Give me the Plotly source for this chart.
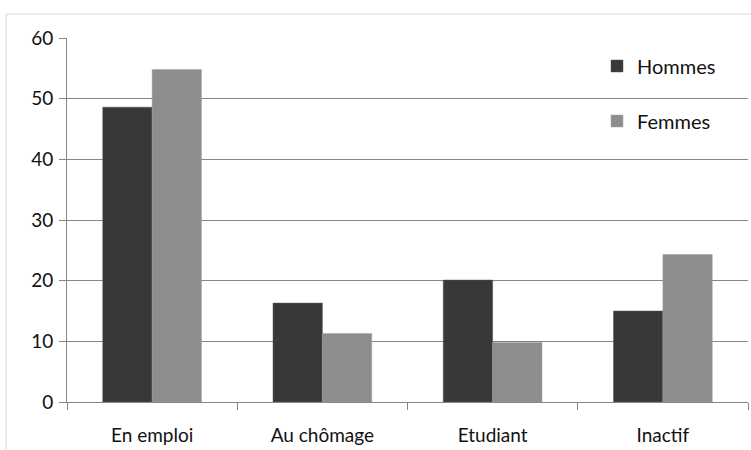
import plotly.graph_objects as go

categories = ["En emploi", "Au chômage", "Etudiant", "Inactif"]
hommes = [48.6, 16.3, 20.1, 15.0]
femmes = [54.8, 11.3, 9.8, 24.3]
y_ticks = [0, 10, 20, 30, 40, 50, 60]

W, H = 751, 450
L, R, T, B = 67, 3, 38, 48
pw, ph = W - L - R, H - T - B

def px_x(x):
    return (x - L) / pw

def px_y(y):
    return 1 - (y - T) / ph

FAMILY = "Lato, 'Open Sans', sans-serif"
font = dict(family=FAMILY, size=19, color="#111111")

fig = go.Figure()
fig.add_trace(go.Bar(
    x=categories, y=hommes, name="Hommes",
    marker=dict(color="#383838", line=dict(color="#555555", width=0.5)),
    legend="legend",
))
fig.add_trace(go.Bar(
    x=categories, y=femmes, name="Femmes",
    marker=dict(color="#8d8d8d", line=dict(color="#a0a0a0", width=0.5)),
    legend="legend2",
))

legend_common = dict(
    xanchor="left", yanchor="middle",
    font=dict(family=FAMILY, size=20, color="#111111"),
    bgcolor="rgba(0,0,0,0)", itemwidth=30, itemclick=False,
)

# outer frame of the chart area (top and left edges)
frame = "#dcd9d0"
shapes = [
    dict(type="line", xref="paper", yref="paper",
         x0=px_x(6), x1=px_x(751), y0=px_y(14), y1=px_y(14),
         line=dict(color=frame, width=1)),
    dict(type="line", xref="paper", yref="paper",
         x0=px_x(6), x1=px_x(6), y0=px_y(14), y1=px_y(450),
         line=dict(color=frame, width=1)),
]

fig.update_layout(
    width=W, height=H,
    margin=dict(l=L, r=R, t=T, b=B),
    paper_bgcolor="white", plot_bgcolor="white",
    barmode="group", bargap=0.42, bargroupgap=0,
    font=font,
    showlegend=True,
    legend=dict(x=px_x(597), y=px_y(66), **legend_common),
    legend2=dict(x=px_x(597), y=px_y(121), **legend_common),
    shapes=shapes,
    xaxis=dict(
        type="category", range=[-0.5, 3.5],
        showline=True, linecolor="#868686", linewidth=1,
        ticks="outside", tickson="boundaries", ticklen=7,
        tickcolor="#868686", tickwidth=1,
        showgrid=False, ticklabelstandoff=16,
        tickfont=font,
    ),
    yaxis=dict(
        range=[0, 60], tickvals=y_ticks, ticktext=[str(v) for v in y_ticks],
        showline=True, linecolor="#868686", linewidth=1,
        ticks="outside", ticklen=7, tickcolor="#868686", tickwidth=1,
        showgrid=True, gridcolor="#868686", gridwidth=1,
        zeroline=False, tickfont=font, ticklabelstandoff=2,
    ),
)

fig.write_html("out.html")
